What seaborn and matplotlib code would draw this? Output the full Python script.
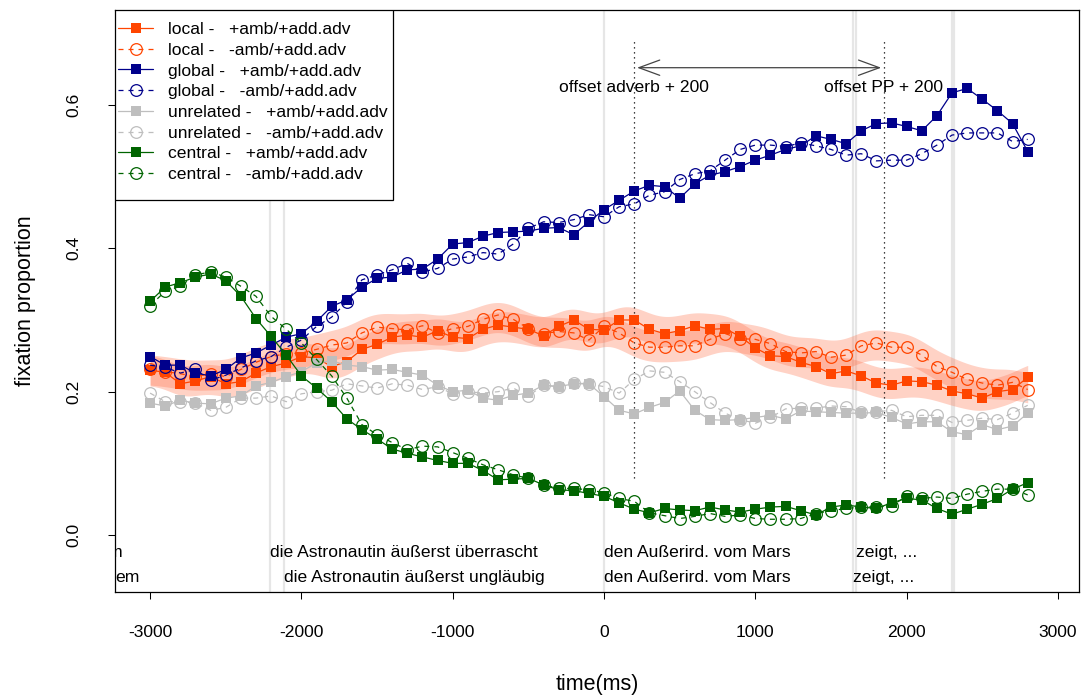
import numpy as np
import pandas as pd
import matplotlib
matplotlib.use('Agg')
import matplotlib.pyplot as plt
from matplotlib.patches import Rectangle
import seaborn as sns

sns.set_style('white')
plt.rcParams['font.family'] = ['Liberation Sans', 'DejaVu Sans']
plt.rcParams['axes.unicode_minus'] = False
plt.rcParams['text.color'] = 'black'
plt.rcParams['axes.labelcolor'] = 'black'

# Zeitachse (ms relativ zum Onset)
time_ms = np.arange(-3000, 2801, 100)

# Fixationsanteile pro Bedingung
local_plus = [0.230, 0.227, 0.211, 0.215, 0.221, 0.211, 0.214, 0.226, 0.235, 0.240,
              0.249, 0.247, 0.235, 0.242, 0.259, 0.266, 0.276, 0.279, 0.276, 0.285,
              0.276, 0.274, 0.287, 0.293, 0.290, 0.287, 0.278, 0.291, 0.300, 0.287,
              0.286, 0.300, 0.300, 0.287, 0.281, 0.285, 0.292, 0.287, 0.288, 0.277,
              0.261, 0.250, 0.249, 0.241, 0.235, 0.225, 0.229, 0.222, 0.212, 0.209,
              0.215, 0.214, 0.209, 0.201, 0.197, 0.191, 0.200, 0.203, 0.220]
local_minus = [0.231, 0.228, 0.225, 0.221, 0.225, 0.221, 0.231, 0.241, 0.249, 0.253,
               0.254, 0.259, 0.265, 0.268, 0.282, 0.290, 0.288, 0.286, 0.292, 0.282,
               0.288, 0.291, 0.301, 0.307, 0.301, 0.288, 0.281, 0.284, 0.282, 0.272,
               0.291, 0.282, 0.268, 0.262, 0.262, 0.264, 0.264, 0.273, 0.281, 0.274,
               0.273, 0.267, 0.256, 0.254, 0.256, 0.248, 0.251, 0.264, 0.268, 0.262,
               0.262, 0.251, 0.235, 0.227, 0.217, 0.212, 0.209, 0.213, 0.203]
global_plus = [0.249, 0.237, 0.237, 0.226, 0.222, 0.231, 0.247, 0.254, 0.265, 0.276,
               0.281, 0.298, 0.319, 0.328, 0.346, 0.358, 0.360, 0.370, 0.371, 0.385,
               0.406, 0.408, 0.417, 0.422, 0.423, 0.424, 0.428, 0.429, 0.419, 0.437,
               0.454, 0.467, 0.480, 0.488, 0.486, 0.470, 0.490, 0.502, 0.507, 0.514,
               0.523, 0.530, 0.538, 0.543, 0.557, 0.552, 0.546, 0.564, 0.574, 0.575,
               0.570, 0.564, 0.585, 0.617, 0.623, 0.608, 0.592, 0.574, 0.535]
global_minus = [0.237, 0.234, 0.226, 0.231, 0.216, 0.223, 0.233, 0.243, 0.249, 0.262,
                0.272, 0.291, 0.304, 0.325, 0.356, 0.363, 0.370, 0.379, 0.367, 0.372,
                0.385, 0.388, 0.394, 0.392, 0.406, 0.428, 0.437, 0.436, 0.440, 0.447,
                0.444, 0.458, 0.462, 0.474, 0.479, 0.496, 0.504, 0.508, 0.523, 0.538,
                0.544, 0.544, 0.542, 0.547, 0.543, 0.538, 0.530, 0.532, 0.522, 0.523,
                0.523, 0.532, 0.544, 0.558, 0.561, 0.561, 0.561, 0.549, 0.552]
unrelated_plus = [0.184, 0.180, 0.188, 0.184, 0.183, 0.191, 0.194, 0.208, 0.213, 0.221,
                  0.228, 0.240, 0.243, 0.237, 0.235, 0.230, 0.231, 0.227, 0.223, 0.209,
                  0.200, 0.202, 0.191, 0.188, 0.195, 0.198, 0.209, 0.207, 0.211, 0.211,
                  0.193, 0.174, 0.169, 0.178, 0.185, 0.201, 0.174, 0.161, 0.160, 0.161,
                  0.164, 0.167, 0.162, 0.173, 0.172, 0.171, 0.170, 0.170, 0.171, 0.164,
                  0.155, 0.158, 0.158, 0.144, 0.140, 0.154, 0.147, 0.152, 0.170]
unrelated_minus = [0.198, 0.186, 0.186, 0.184, 0.174, 0.178, 0.191, 0.191, 0.194, 0.186,
                   0.197, 0.200, 0.202, 0.211, 0.208, 0.205, 0.211, 0.209, 0.203, 0.207,
                   0.197, 0.200, 0.198, 0.200, 0.205, 0.194, 0.209, 0.207, 0.212, 0.211,
                   0.207, 0.198, 0.217, 0.229, 0.227, 0.214, 0.200, 0.185, 0.170, 0.161,
                   0.156, 0.164, 0.176, 0.177, 0.177, 0.180, 0.179, 0.171, 0.172, 0.174,
                   0.165, 0.167, 0.167, 0.157, 0.160, 0.163, 0.161, 0.170, 0.181]
central_plus = [0.326, 0.346, 0.352, 0.360, 0.364, 0.355, 0.333, 0.302, 0.277, 0.251,
                0.222, 0.205, 0.186, 0.162, 0.147, 0.134, 0.120, 0.114, 0.109, 0.104,
                0.100, 0.100, 0.090, 0.077, 0.078, 0.079, 0.070, 0.063, 0.062, 0.058,
                0.054, 0.045, 0.036, 0.031, 0.037, 0.035, 0.034, 0.039, 0.035, 0.032,
                0.036, 0.039, 0.040, 0.034, 0.028, 0.039, 0.042, 0.039, 0.037, 0.045,
                0.051, 0.049, 0.037, 0.029, 0.036, 0.043, 0.051, 0.064, 0.073]
central_minus = [0.320, 0.340, 0.347, 0.363, 0.367, 0.360, 0.347, 0.333, 0.305, 0.287,
                 0.268, 0.245, 0.222, 0.191, 0.154, 0.140, 0.129, 0.119, 0.124, 0.123,
                 0.115, 0.107, 0.098, 0.091, 0.084, 0.079, 0.070, 0.065, 0.065, 0.063,
                 0.059, 0.051, 0.047, 0.031, 0.027, 0.023, 0.026, 0.030, 0.026, 0.028,
                 0.023, 0.022, 0.022, 0.023, 0.030, 0.034, 0.037, 0.039, 0.039, 0.041,
                 0.054, 0.051, 0.053, 0.051, 0.057, 0.061, 0.064, 0.064, 0.056]

# Regionen (Satzteile) und Grenzen
region_bounds_1 = [-2207, 0, 1662, 2300]
region_bounds_2 = [-2115, 0, 1648, 2310]
region_text_1 = ['die Astronautin äußerst überrascht', 'den Außerird. vom Mars', 'zeigt, ...']
region_text_2 = ['die Astronautin äußerst ungläubig', 'den Außerird. vom Mars', 'zeigt, ...']
offset_adverb = 200
offset_pp = 1850

series = [
    ('local', '+amb/+add.adv', local_plus, '#FF4500', 's', '-'),
    ('local', '-amb/+add.adv', local_minus, '#FF4500', 'o', (0, (4, 4))),
    ('global', '+amb/+add.adv', global_plus, '#00008B', 's', '-'),
    ('global', '-amb/+add.adv', global_minus, '#00008B', 'o', (0, (4, 4))),
    ('unrelated', '+amb/+add.adv', unrelated_plus, '#BEBEBE', 's', '-'),
    ('unrelated', '-amb/+add.adv', unrelated_minus, '#BEBEBE', 'o', (0, (4, 4))),
    ('central', '+amb/+add.adv', central_plus, '#006400', 's', '-'),
    ('central', '-amb/+add.adv', central_minus, '#006400', 'o', (0, (4, 4))),
]


def smooth_band(y):
    tf = np.linspace(time_ms[0], time_ms[-1], 581)
    yf = np.interp(tf, time_ms, y)
    k = np.exp(-0.5 * (np.arange(-30, 31) / 7.0) ** 2)
    k /= k.sum()
    ys = np.convolve(np.pad(yf, 30, mode='edge'), k, mode='valid')
    return tf, ys


fig = plt.figure(figsize=(10.83, 6.97), dpi=100)
ax = fig.add_axes([115 / 1083, 1 - 592 / 697, (1079 - 115) / 1083, (592 - 10) / 697])

# graue Regionsgrenzen
for b in sorted(set(region_bounds_1 + region_bounds_2)):
    ax.axvline(b, color='#E6E6E6', lw=1.6, zorder=0)

# Konfidenzband fuer local
for y in (local_plus, local_minus):
    tf, ys = smooth_band(y)
    ax.fill_between(tf, ys - 0.021, ys + 0.021, color=(1.0, 0.45, 0.30), alpha=0.32, lw=0, zorder=1)

for name, cond, vals, col, mk, ls in series:
    df = pd.DataFrame({'time': time_ms, 'prop': vals})
    filled = mk == 's'
    sns.lineplot(data=df, x='time', y='prop', ax=ax, color=col, lw=0.9,
                 linestyle=ls, marker=mk, markersize=7.2 if filled else 8.4,
                 markerfacecolor=col if filled else 'none', markeredgecolor=col,
                 markeredgewidth=0 if filled else 0.9, errorbar=None,
                 label=f'{name} -   {cond}', zorder=3)

# Offsets
for xo in (offset_adverb, offset_pp):
    ax.plot([xo, xo], [0.08, 0.69], color='black', lw=0.9, linestyle=(0, (1, 3)), zorder=2)
ax.annotate('', xy=(offset_adverb, 0.652), xytext=(offset_pp, 0.652),
            arrowprops=dict(arrowstyle='<->,head_length=1.5,head_width=0.55', color='#444444', lw=0.9))
ax.text(offset_adverb, 0.624, 'offset adverb + 200', ha='center', va='center', fontsize=12.6)
ax.text(offset_pp, 0.624, 'offset PP + 200', ha='center', va='center', fontsize=12.6)

# Satzregionen unten
for xb, txt in zip(region_bounds_1, region_text_1):
    ax.text(xb, -0.0237, txt, ha='left', va='center', fontsize=12.6)
for xb, txt in zip(region_bounds_2, region_text_2):
    ax.text(xb, -0.0586, txt, ha='left', va='center', fontsize=12.6)
ax.text(-3180, -0.0237, 'm', ha='right', va='center', fontsize=12.6, clip_on=True)
ax.text(-3070, -0.0586, 'em', ha='right', va='center', fontsize=12.6, clip_on=True)

ax.set_xlim(-3232, 3139)
ax.set_ylim(-0.0795, 0.7325)
ax.set_xticks([-3000, -2000, -1000, 0, 1000, 2000, 3000])
ax.set_yticks([0.0, 0.2, 0.4, 0.6])
ax.set_yticklabels(['0.0', '0.2', '0.4', '0.6'], rotation=90, va='center')
ax.tick_params(axis='both', direction='out', length=5, width=0.75, pad=19,
               labelsize=12.6, bottom=True, left=True, colors='black')
ax.set_xlabel('time(ms)', fontsize=15.5, labelpad=24, color='black')
ax.set_ylabel('fixation proportion', fontsize=15.5, labelpad=22, color='black')
for sp in ax.spines.values():
    sp.set_color('black')
    sp.set_linewidth(0.9)

# Legende mit eigenem Rahmen
leg = ax.legend(loc='upper left', bbox_to_anchor=(3 / 964, (592 - 22) / 582), borderaxespad=0,
                borderpad=0, fontsize=12.6, frameon=False, labelcolor='black',
                handlelength=2.0, handletextpad=0.85, labelspacing=0.31)
ax.add_patch(Rectangle((0, (592 - 200) / 582), (393 - 115) / 964, (200 - 10) / 582,
                       transform=ax.transAxes, fill=True, facecolor='white',
                       edgecolor='black', lw=0.9, zorder=4))
leg.set_zorder(5)

fig.savefig('out.png', dpi=100)
